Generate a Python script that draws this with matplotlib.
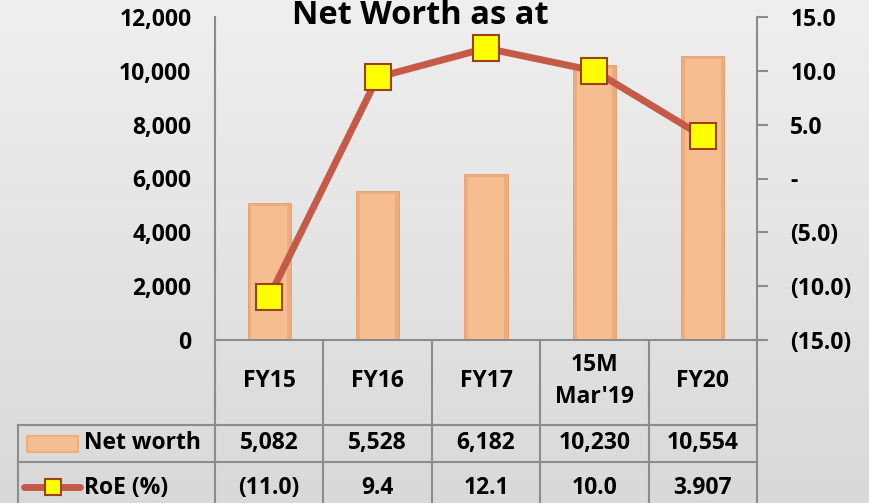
import matplotlib.pyplot as plt
import numpy as np
from matplotlib.lines import Line2D
from matplotlib.patches import Rectangle
from matplotlib.colors import LinearSegmentedColormap
from matplotlib.transforms import blended_transform_factory

plt.rcParams['font.family'] = ['Open Sans', 'DejaVu Sans']
plt.rcParams['font.weight'] = 'bold'

# data
periods = ['FY15', 'FY16', 'FY17', "15M\nMar'19", 'FY20']
net_worth = [5082, 5528, 6182, 10230, 10554]
roe = [-11.0, 9.4, 12.1, 10.0, 3.907]
roe_labels = ['(11.0)', '9.4', '12.1', '10.0', '3.907']

W, H = 869, 503
grid_c = '#8c8c8c'
bar_c = '#f6bd91'
bar_edge = '#eeab7c'
line_c = '#c65a48'
fs = 16.5

def fx(px):
    return px / W

def fy(py):
    return 1 - py / H

fig = plt.figure(figsize=(W / 100, H / 100), dpi=100)

# gradient background
bg = fig.add_axes([0, 0, 1, 1], zorder=-5)
cm = LinearSegmentedColormap.from_list('bg', ['#d9d9d9', '#efefef'])
bg.imshow(np.linspace(0, 1, 200).reshape(-1, 1), cmap=cm, aspect='auto',
          extent=[0, 1, 0, 1], origin='lower')
bg.axis('off')

ax = fig.add_axes([fx(215), fy(340), fx(757 - 215), (340 - 17) / H])
ax.patch.set_alpha(0)
x = np.arange(len(periods))

# bars with a soft bevel: slightly darker rim, lighter face inside
ax.bar(x, net_worth, width=0.4, color=bar_edge, edgecolor='#e39d6c', linewidth=0.6, zorder=2)
ax.bar(x, np.array(net_worth) - 110, width=0.33, color=bar_c, linewidth=0, zorder=2)
ax.set_xlim(-0.5, len(periods) - 0.5)
ax.set_ylim(0, 12000)
ax.set_yticks(np.arange(0, 12001, 2000))
ax.yaxis.set_major_formatter(lambda v, p: f'{v:,.0f}')
ax.tick_params(axis='y', length=0, pad=17, labelsize=fs)
ax.set_xticks([])
for s in ['top', 'right', 'bottom']:
    ax.spines[s].set_visible(False)
ax.spines['left'].set_color(grid_c)
ax.spines['left'].set_linewidth(1.5)

ax2 = ax.twinx()
ax2.set_ylim(-15, 15)
ax2.set_yticks(np.arange(-15, 16, 5))

def roe_fmt(v, p):
    if abs(v) < 1e-9:
        return '-'
    if v < 0:
        return f'({-v:.1f})'
    return f'{v:.1f}'

ax2.yaxis.set_major_formatter(roe_fmt)
ax2.tick_params(axis='y', direction='out', length=8, width=1.5, color=grid_c,
                pad=16, labelsize=fs)
for s in ['top', 'left', 'bottom']:
    ax2.spines[s].set_visible(False)
ax2.spines['right'].set_color(grid_c)
ax2.spines['right'].set_linewidth(1.5)
ax2.plot(x, roe, color=line_c, lw=5, marker='s', ms=19, mfc='#ffff00',
         mec='#9a4318', mew=1.5, zorder=3)

fig.text(fx(420), fy(24), 'Net Worth as at', ha='center', va='baseline',
         fontsize=23.5, fontweight='bold')

# data table below the plot
tr = blended_transform_factory(ax.transData, fig.transFigure)
edges = np.arange(len(periods) + 1) - 0.5
for e in edges:
    fig.add_artist(Line2D([e, e], [fy(340), fy(503)], color=grid_c, lw=1.5, transform=tr))
fig.add_artist(Line2D([fx(215), fx(765)], [fy(340), fy(340)], color=grid_c, lw=1.5))
for yy in [425, 462]:
    fig.add_artist(Line2D([fx(18), fx(757)], [fy(yy), fy(yy)], color=grid_c, lw=1.5))
fig.add_artist(Line2D([fx(18), fx(18)], [fy(425), fy(503)], color=grid_c, lw=1.5))

for i, lab in enumerate(periods):
    fig.text(x[i], fy(381), lab, transform=tr, ha='center', va='center',
             fontsize=fs, linespacing=1.45)
    fig.text(x[i], fy(443), f'{net_worth[i]:,}', transform=tr, ha='center',
             va='center', fontsize=fs)
    fig.text(x[i], fy(488), roe_labels[i], transform=tr, ha='center',
             va='center', fontsize=fs)

# legend keys in table
fig.add_artist(Rectangle((fx(27), fy(452)), fx(51), (452 - 436) / H,
                         facecolor=bar_c, edgecolor=bar_edge, lw=1.5))
fig.add_artist(Line2D([fx(24), fx(80)], [fy(487), fy(487)], color=line_c, lw=5,
                      solid_capstyle='round'))
fig.add_artist(Line2D([fx(53)], [fy(487)], marker='s', ms=12, mfc='#ffff00',
                      mec='#9a4318', mew=1.5))
fig.text(fx(84), fy(443), 'Net worth', ha='left', va='center', fontsize=fs)
fig.text(fx(84), fy(488), 'RoE (%)', ha='left', va='center', fontsize=fs)

fig.savefig('out.png', dpi=100)
